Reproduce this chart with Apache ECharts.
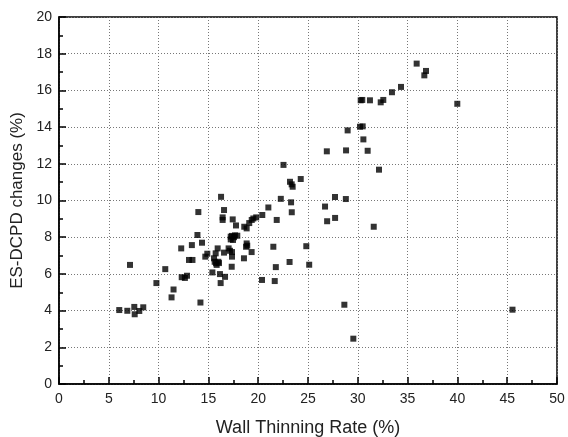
<!DOCTYPE html>
<html>
<head>
<meta charset="utf-8">
<script src="https://cdn.jsdelivr.net/npm/echarts@6/dist/echarts.min.js"></script>
<style>
  html, body { margin: 0; padding: 0; background: #fff; }
  #chart { width: 568px; height: 437px; }
</style>
</head>
<body>
<div id="chart"></div>
<script>
// Wall thinning rate (%) vs ES-DCPD change (%)
var wallThinning = [
  6.05, 6.86, 7.13, 7.56, 7.6, 8.06, 8.46,
  9.78, 10.67, 11.3, 11.5, 12.27, 12.32, 12.64, 12.85, 13.05, 13.4, 13.34,
  13.9, 13.99, 14.2, 14.36, 14.69, 14.89, 15.4,
  15.56, 15.63, 15.76, 15.83, 16.0, 16.06, 15.93, 15.73,
  16.27, 16.16, 16.23, 16.57, 16.43, 16.43, 16.67, 16.57,
  17.03, 17.17, 17.24, 17.37, 17.57, 17.67, 17.24, 17.47,
  17.37, 17.37, 17.34, 17.44, 17.77, 17.9,
  18.57, 18.6, 18.84, 18.84, 18.78, 18.9,
  19.1, 19.35, 19.51, 19.8, 19.34, 20.41, 20.38,
  21.02, 21.52, 21.77, 21.66, 21.86, 22.27, 22.54,
  23.15, 23.3, 23.37, 23.19, 23.36, 23.46, 24.27, 24.83, 25.12,
  26.71, 26.89, 26.92, 27.71, 27.72, 28.82, 28.8, 28.98,
  28.65, 29.55,
  30.22, 30.49, 30.56, 30.99, 30.29, 30.45, 31.22, 31.6, 32.13,
  32.3, 32.56, 33.43, 34.34, 35.91, 36.68, 36.85, 39.99, 45.53
];
var dcpdChange = [
  4.03, 3.99, 6.49, 4.2, 3.8, 3.98, 4.18,
  5.5, 6.26, 4.72, 5.15, 7.39, 5.82, 5.78, 5.9, 6.76, 6.76, 7.57,
  8.12, 9.37, 4.44, 7.7, 6.94, 7.1, 6.08,
  6.85, 6.66, 6.58, 6.49, 6.66, 6.59, 7.39, 7.12,
  10.2, 5.99, 5.5, 9.48, 9.08, 8.94, 5.84, 7.16,
  7.39, 7.26, 8.03, 8.07, 8.0, 8.1, 7.88, 7.85,
  6.94, 7.19, 6.39, 8.97, 8.64, 8.08,
  6.85, 8.57, 8.48, 7.66, 7.48, 7.54,
  8.77, 8.94, 9.02, 9.08, 7.19, 9.21, 5.67,
  9.62, 7.48, 6.37, 5.61, 8.94, 10.09, 11.94,
  6.65, 9.9, 9.36, 11.02, 10.88, 10.75, 11.17, 7.51, 6.5,
  9.67, 12.68, 8.87, 10.19, 9.05, 12.73, 10.08, 13.82,
  4.32, 2.47,
  14.02, 14.04, 13.33, 12.71, 15.46, 15.48, 15.46, 8.57, 11.68,
  15.35, 15.48, 15.9, 16.19, 17.46, 16.82, 17.06, 15.27, 4.05
];

var points = wallThinning.map(function (x, i) {
  return [x, dcpdChange[i]];
});

var chart = echarts.init(document.getElementById("chart"));
var fontFamily = "Liberation Sans, Arial, sans-serif";

var option = {
  animation: false,
  grid: {
    left: 59,
    right: 11,
    top: 17,
    bottom: 53,
    outerBoundsMode: "none",
    containLabel: false,
    show: true,
    borderColor: "#000",
    borderWidth: 1.5,
  },
  xAxis: {
    type: "value",
    min: 0,
    max: 50,
    interval: 5,
    name: "Wall Thinning Rate (%)",
    nameLocation: "middle",
    nameGap: 35,
    nameTextStyle: { fontFamily: fontFamily, fontSize: 18, color: "#222" },
    axisLine: { show: true, lineStyle: { color: "#000", width: 1.5 } },
    axisTick: { show: true, inside: true, length: 7, lineStyle: { color: "#000", width: 1.5 } },
    minorTick: { show: true, splitNumber: 2, length: 4, lineStyle: { color: "#000", width: 1.5 } },
    axisLabel: { margin: 8, fontFamily: fontFamily, fontSize: 14, color: "#222" },
    splitLine: {
      show: true,
      lineStyle: { color: "#777", type: [1, 2], width: 1 },
    },
  },
  yAxis: {
    type: "value",
    min: 0,
    max: 20,
    interval: 2,
    name: "ES-DCPD changes (%)",
    nameLocation: "middle",
    nameGap: 27,
    nameTextStyle: { fontFamily: fontFamily, fontSize: 17, color: "#222" },
    axisLine: { show: true, lineStyle: { color: "#000", width: 1.5 } },
    axisTick: { show: true, inside: true, length: 7, lineStyle: { color: "#000", width: 1.5 } },
    minorTick: { show: true, splitNumber: 2, length: 4, lineStyle: { color: "#000", width: 1.5 } },
    axisLabel: { margin: 7, fontFamily: fontFamily, fontSize: 14, color: "#222" },
    splitLine: {
      show: true,
      lineStyle: { color: "#777", type: [1, 2], width: 1 },
    },
  },
  series: [
    {
      type: "scatter",
      symbol: "rect",
      symbolSize: 6,
      itemStyle: { color: "#000" },
      data: points,
    },
  ],
};
chart.setOption(option);
</script>
</body>
</html>
